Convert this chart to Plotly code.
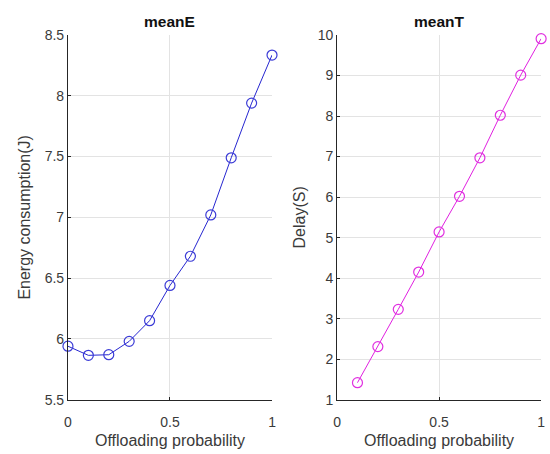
import plotly.graph_objects as go

prob_E = [0, 0.1, 0.2, 0.3, 0.4, 0.5, 0.6, 0.7, 0.8, 0.9, 1.0]
meanE = [5.94, 5.865, 5.87, 5.98, 6.15, 6.44, 6.68, 7.02, 7.49, 7.94, 8.335]
prob_T = [0.1, 0.2, 0.3, 0.4, 0.5, 0.6, 0.7, 0.8, 0.9, 1.0]
meanT = [1.42, 2.31, 3.23, 4.15, 5.14, 6.02, 6.97, 8.02, 9.01, 9.91]

FONT = "Liberation Sans, Arial, sans-serif"
AXC = "#262626"
TICKC = "#3a3a3a"

fig = go.Figure()
fig.add_trace(go.Scatter(x=prob_E, y=meanE, mode="lines+markers",
                         line=dict(color="#2626d0", width=1),
                         marker=dict(symbol="circle-open", size=10, color="#3b3bd6", line=dict(width=1.2)),
                         xaxis="x", yaxis="y", cliponaxis=False, showlegend=False))
fig.add_trace(go.Scatter(x=prob_T, y=meanT, mode="lines+markers",
                         line=dict(color="#e020e0", width=1),
                         marker=dict(symbol="circle-open", size=10, color="#e030e0", line=dict(width=1.2)),
                         xaxis="x2", yaxis="y2", cliponaxis=False, showlegend=False))

common_x = dict(range=[0, 1], tickvals=[0, 0.5, 1], ticktext=["0", "0.5", "1"],
                showgrid=True, gridcolor="#e3e3e3", gridwidth=1,
                showline=True, linecolor=AXC, linewidth=1, ticks="inside", ticklen=3,
                tickcolor=AXC, zeroline=False, ticklabelstandoff=9,
                tickfont=dict(family=FONT, size=14, color=TICKC),
                title=dict(text="Offloading probability", font=dict(family=FONT, size=16, color=TICKC), standoff=6))
common_y = dict(showgrid=True, gridcolor="#e3e3e3", gridwidth=1,
                showline=True, linecolor=AXC, linewidth=1, ticks="inside", ticklen=3,
                tickcolor=AXC, zeroline=False,
                tickfont=dict(family=FONT, size=14, color=TICKC))

fig.update_layout(
    width=550, height=454,
    margin=dict(l=0, r=0, t=0, b=0),
    paper_bgcolor="white", plot_bgcolor="white",
    xaxis=dict(domain=[0.118, 0.4945], anchor="y", **common_x),
    yaxis=dict(domain=[0.1057, 0.9383], anchor="x", range=[5.5, 8.5],
               tickvals=[5.5, 6, 6.5, 7, 7.5, 8, 8.5],
               ticktext=["5.5", "6", "6.5", "7", "7.5", "8", "8.5"],
               title=dict(text="Energy consumption(J)", font=dict(family=FONT, size=16, color=TICKC), standoff=10),
               **common_y),
    xaxis2=dict(domain=[0.6145, 0.991], anchor="y2", **common_x),
    yaxis2=dict(domain=[0.1057, 0.9383], anchor="x2", range=[1, 10],
                tickvals=list(range(1, 11)),
                title=dict(text="Delay(S)", font=dict(family=FONT, size=16, color=TICKC), standoff=8),
                **common_y),
    annotations=[
        dict(text="<b>meanE</b>", x=0.5, xref="x domain", y=1, yref="y domain",
             yanchor="bottom", yshift=3, showarrow=False,
             font=dict(family=FONT, size=15.5, color="#111111")),
        dict(text="<b>meanT</b>", x=0.5, xref="x2 domain", y=1, yref="y2 domain",
             yanchor="bottom", yshift=3, showarrow=False,
             font=dict(family=FONT, size=15.5, color="#111111")),
    ],
)

fig.write_html("out.html")
